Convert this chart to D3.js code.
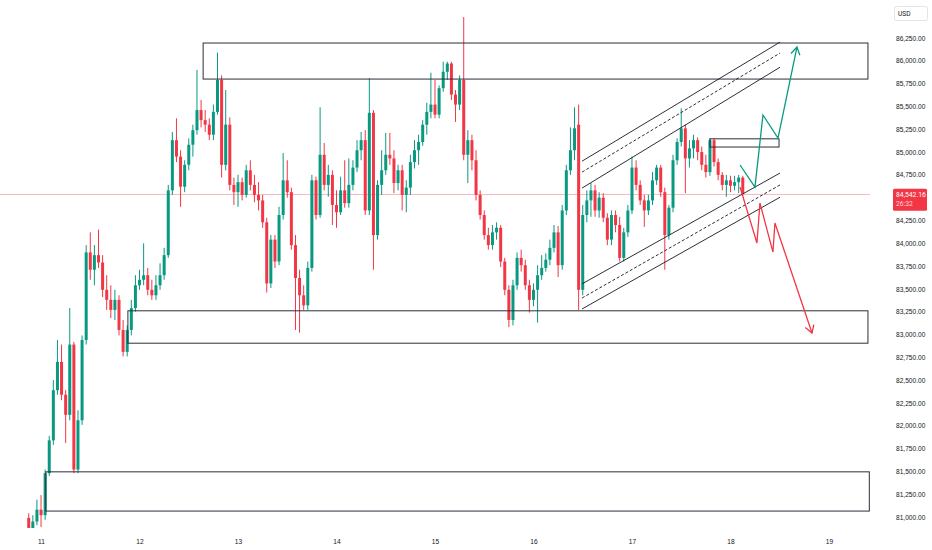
<!DOCTYPE html>
<html>
<head>
<meta charset="utf-8">
<script src="https://cdn.jsdelivr.net/npm/d3@7"></script>
<style>
  html, body { margin: 0; padding: 0; background: #fff; }
  svg { display: block; font-family: Roboto, "Noto Sans", sans-serif; }
  .axis text { fill: #131722; font-size: 6.6px; }
</style>
</head>
<body>
<script>
// BTC/USD hourly candles, [open, high, low, close]
const firstCandle = '2025-03-10T21:00Z';

const day10 = [[80990,81040,80860,80880],[80880,81020,80860,80950],[80950,81190,80910,81080]];
const day11 = [
  [81080,81240,80890,81020],[81020,81520,80970,81480],[81480,81890,81450,81840],[81840,82500,81790,82390],
  [82390,82940,82340,82700],[82700,82890,82280,82340],[82340,82390,81810,82120],[82120,83290,82060,82890],
  [82890,82920,81480,81520],[81520,82170,81480,82060],[82060,82990,82010,82940],[82940,83980,82890,83900],
  [83900,84120,83600,83710],[83710,83980,83540,83870],[83870,84150,83730,83790],[83790,83870,83410,83490],
  [83490,83650,83270,83380],[83380,83540,83180,83270],[83270,83490,83160,83380],[83380,83430,82990,83050],
  [83050,83160,82760,82810],[82810,83100,82760,83050],[83050,83380,82990,83290],[83290,83650,83250,83540]
];
const day12 = [
  [83540,83710,83490,83600],[83600,84000,83540,83650],[83650,83730,83430,83490],[83490,83600,83380,83430],
  [83430,83650,83380,83540],[83540,83780,83490,83650],[83650,83950,83600,83870],[83870,84640,83840,84580],
  [84580,85220,84530,85130],[85130,85370,84890,84950],[84950,85020,84400,84620],[84620,84910,84560,84860],
  [84860,85150,84800,85080],[85080,85300,84950,85240],[85240,85900,85190,85460],[85460,85570,85270,85350],
  [85350,85460,85220,85300],[85300,85370,85130,85190],[85190,85520,85130,85440],[85440,86090,85410,85790],
  [85790,85840,84720,84860],[84860,85680,84800,85300],[85300,85380,84580,84640],[84640,84720,84420,84560]
];
const day13 = [
  [84560,84750,84400,84670],[84670,84720,84470,84530],[84530,84860,84500,84800],[84800,84910,84580,84640],
  [84640,84750,84450,84530],[84530,84670,84360,84470],[84470,84530,84170,84230],[84230,84280,83460,83560],
  [83560,84090,83510,84040],[84040,84090,83730,83800],[83800,84400,83760,84310],[84310,84990,84260,84690],
  [84690,84910,84500,84560],[84560,84610,83930,83980],[83980,84090,83050,83620],[83620,83710,83020,83430],
  [83430,83540,83270,83320],[83320,83800,83270,83730],[83730,84750,83690,84690],[84690,84730,84260,84310],
  [84310,85490,84280,84970],[84970,85100,84580,84640],[84640,84860,84510,84750],[84750,84800,84200,84420]
];
const day14 = [
  [84420,84580,84170,84340],[84340,84730,84310,84580],[84580,84910,84390,84440],[84440,84930,84390,84640],
  [84640,84910,84580,84830],[84830,85130,84780,85020],[85020,85220,84910,85130],[85130,85240,84310,84360],
  [84360,85810,84310,85430],[85430,85460,83710,84090],[84090,84690,84040,84640],[84640,85020,84530,84800],
  [84800,85210,84750,84970],[84970,85210,84860,84930],[84930,85020,84550,84660],[84660,84860,84580,84800],
  [84800,84860,84360,84530],[84530,84690,84340,84610],[84610,84970,84530,84890],[84890,85130,84820,85020],
  [85020,85190,84860,85110],[85110,85350,85070,85300],[85300,85540,85190,85440],[85440,85870,85370,85520]
];
const day15 = [
  [85520,85790,85370,85410],[85410,85730,85370,85700],[85700,85990,85660,85880],[85880,85990,85790,85970],
  [85970,85990,85570,85630],[85630,85680,85330,85520],[85520,85840,85460,85790],[85790,86480,84910,84970],
  [84970,85240,84660,85130],[85130,85190,84800,84910],[84910,85020,84470,84530],[84530,84580,84260,84310],
  [84310,84360,84040,84090],[84090,84170,83930,83980],[83980,84200,83930,84120],[84120,84230,84040,84170],
  [84170,84200,83740,83800],[83800,83840,83430,83490],[83490,83540,83080,83160],[83160,83600,83100,83540],
  [83540,83900,83490,83840],[83840,83930,83690,83760],[83760,83820,83490,83540],[83540,83600,83240,83380]
];
const day16 = [
  [83380,83560,83310,83490],[83490,83760,83130,83650],[83650,83870,83600,83730],[83730,83890,83690,83820],
  [83820,84040,83760,83950],[83950,84200,83900,84120],[84120,84190,83630,83760],[83760,84420,83710,84360],
  [84360,84860,84310,84800],[84800,85270,84750,85020],[85020,85490,84910,85260],[85300,85520,83270,83490],
  [83490,84420,83430,84310],[84310,84580,84230,84470],[84470,84660,84290,84580],[84580,84640,84290,84360],
  [84360,84560,84280,84500],[84500,84550,84230,84280],[84280,84330,83980,84040],[84040,84360,83980,84310],
  [84310,84360,84120,84200],[84200,84290,83800,83840],[83840,84170,83800,84120],[84120,84420,84070,84360]
];
const day17 = [
  [84360,84950,84320,84830],[84830,84910,84580,84640],[84640,84690,84420,84470],[84470,84530,84180,84360],
  [84360,84530,84310,84470],[84470,84780,84420,84690],[84690,84860,84640,84830],[84830,84860,84510,84560],
  [84560,84610,83710,84090],[84090,84420,84040,84390],[84390,84970,84340,84910],[84910,85150,84860,85110],
  [85110,85480,85060,85260],[85260,85300,84550,84930],[84930,85130,84830,85040],[85040,85190,84930,85130],
  [85130,85160,84910,85000],[85000,85060,84800,84860],[84860,84970,84720,84780],[84780,85150,84740,85130],
  [85130,85150,84840,84890],[84890,84930,84690,84750],[84750,84780,84580,84640],[84640,84750,84510,84690]
];
const day18 = [[84690,84740,84560,84630],[84630,84740,84580,84670],[84670,84750,84550,84720],[84720,84740,84520,84542.16]];

const countdown = '26:32';
const currency = 'USD';

const dayTicks = ['2025-03-11','2025-03-12','2025-03-13','2025-03-14','2025-03-15','2025-03-16','2025-03-17','2025-03-18','2025-03-19'];
const priceTicks = [81000,81250,81500,81750,82000,82250,82500,82750,83000,83250,83500,83750,
  84000,84250,84500,84750,85000,85250,85500,85750,86000,86250];

// drawn zones: [from, to, top price, bottom price]
const zones = [
  ['2025-03-12T15:30Z', '2025-03-19T09:30Z', 86195, 85800],
  ['2025-03-11T21:10Z', '2025-03-19T09:30Z', 83260, 82905],
  ['2025-03-11T01:10Z', '2025-03-19T09:50Z', 81495, 81065],
  ['2025-03-17T19:00Z', '2025-03-18T11:50Z', 85145, 85055]
];

// parallel channel: [start price, end price, dashed]
const channelStart = '2025-03-16T11:50Z';
const channelEnd = '2025-03-18T12:05Z';
const channel = [
  [84900, 86205, false], [84780, 86085, true], [84605, 85930, false],
  [83555, 84770, false], [83400, 84640, true], [83280, 84505, false]
];

const bullPath = [
  ['2025-03-18T02:20Z', 84858], ['2025-03-18T05:58Z', 84616], ['2025-03-18T07:55Z', 85406],
  ['2025-03-18T11:35Z', 85153], ['2025-03-18T16:12Z', 86151]
];
const bearPath = [
  ['2025-03-18T02:20Z', 84616], ['2025-03-18T06:27Z', 84003], ['2025-03-18T07:11Z', 84441],
  ['2025-03-18T10:21Z', 83904], ['2025-03-18T10:50Z', 84222], ['2025-03-18T19:52Z', 83016]
];

const UP = '#089981';
const DOWN = '#f23645';

const width = 932, height = 550;
const plotRight = 870;

const candles = [].concat(day10, day11, day12, day13, day14, day15, day16, day17, day18)
  .map(([open, high, low, close], i) => ({
    time: new Date(+new Date(firstCandle) + i * 3600e3),
    open, high, low, close
  }));
const last = candles[candles.length - 1];

const x = d3.scaleUtc()
  .domain([new Date('2025-03-10T14:00Z'), new Date('2025-03-19T10:00Z')])
  .range([0, plotRight]);
const y = d3.scaleLinear().domain([81000, 86250]).range([517, 38]);

const svg = d3.select('body').append('svg')
  .attr('width', width)
  .attr('height', height);

const defs = svg.append('defs');
[['arrow-up', UP], ['arrow-down', DOWN]].forEach(([id, color]) => {
  defs.append('marker')
    .attr('id', id)
    .attr('viewBox', '-9 -6 11 12')
    .attr('refX', 0).attr('refY', 0)
    .attr('markerUnits', 'userSpaceOnUse')
    .attr('markerWidth', 11).attr('markerHeight', 12)
    .attr('orient', 'auto')
    .append('path')
    .attr('d', 'M-7.5,-4.5L0,0L-7.5,4.5')
    .attr('fill', 'none')
    .attr('stroke', color)
    .attr('stroke-width', 1.3);
});

defs.append('clipPath').attr('id', 'plot')
  .append('rect').attr('width', plotRight).attr('height', 528);

const plot = svg.append('g').attr('clip-path', 'url(#plot)');

// last price line
plot.append('line')
  .attr('x1', 0).attr('x2', plotRight)
  .attr('y1', Math.round(y(last.close)) + 0.5).attr('y2', Math.round(y(last.close)) + 0.5)
  .attr('stroke', DOWN)
  .attr('stroke-opacity', 0.35);

// candles
const bodyW = 3;
const candle = plot.append('g').selectAll('g')
  .data(candles)
  .enter().append('g')
  .attr('fill', d => d.close >= d.open ? UP : DOWN)
  .attr('stroke', d => d.close >= d.open ? UP : DOWN);

candle.append('line')
  .attr('x1', d => x(d.time)).attr('x2', d => x(d.time))
  .attr('y1', d => y(d.high)).attr('y2', d => y(d.low))
  .attr('stroke-width', 1);

candle.append('rect')
  .attr('stroke', 'none')
  .attr('x', d => x(d.time) - bodyW / 2)
  .attr('width', bodyW)
  .attr('y', d => y(Math.max(d.open, d.close)))
  .attr('height', d => Math.max(1, Math.abs(y(d.open) - y(d.close))));

// zones
plot.append('g').selectAll('rect')
  .data(zones)
  .enter().append('rect')
  .attr('x', d => x(new Date(d[0])))
  .attr('width', d => x(new Date(d[1])) - x(new Date(d[0])))
  .attr('y', d => y(d[2]))
  .attr('height', d => y(d[3]) - y(d[2]))
  .attr('fill', 'none')
  .attr('stroke', '#2a2e39')
  .attr('stroke-width', 1);

// channel
plot.append('g').selectAll('line')
  .data(channel)
  .enter().append('line')
  .attr('x1', x(new Date(channelStart)))
  .attr('x2', x(new Date(channelEnd)))
  .attr('y1', d => y(d[0]))
  .attr('y2', d => y(d[1]))
  .attr('stroke', '#131722')
  .attr('stroke-width', 0.9)
  .attr('stroke-dasharray', d => d[2] ? '3,2' : null);

const pathLine = d3.line()
  .x(d => x(new Date(d[0])))
  .y(d => y(d[1]));

svg.append('path')
  .attr('d', pathLine(bullPath))
  .attr('fill', 'none')
  .attr('stroke', UP)
  .attr('stroke-width', 1.3)
  .attr('marker-end', 'url(#arrow-up)');

svg.append('path')
  .attr('d', pathLine(bearPath))
  .attr('fill', 'none')
  .attr('stroke', DOWN)
  .attr('stroke-width', 1.3)
  .attr('marker-end', 'url(#arrow-down)');

// axes; labels under the last price badge are hidden like the original scale does
const ly = y(last.close);
const visibleTicks = priceTicks.filter(p => Math.abs(y(p) - (ly + 6)) > 13);

const yAxis = svg.append('g')
  .attr('class', 'axis')
  .attr('transform', `translate(${plotRight},0)`)
  .call(d3.axisRight(y).tickValues(visibleTicks).tickFormat(d3.format(',.2f')).tickSize(0).tickPadding(26));
yAxis.select('.domain').remove();

const xAxis = svg.append('g')
  .attr('class', 'axis')
  .attr('transform', 'translate(0,533)')
  .call(d3.axisBottom(x)
    .tickValues(dayTicks.map(d => new Date(d + 'T00:00Z')))
    .tickFormat(d3.utcFormat('%-d'))
    .tickSize(0).tickPadding(6));
xAxis.select('.domain').remove();

// currency box
svg.append('rect')
  .attr('x', 894.5).attr('y', 6.5)
  .attr('width', 33).attr('height', 14)
  .attr('rx', 2)
  .attr('fill', '#fff')
  .attr('stroke', '#e0e3eb');
svg.append('text')
  .attr('x', 898).attr('y', 16)
  .attr('font-size', 6.6)
  .attr('fill', '#131722')
  .text(currency);

// last price label
svg.append('rect')
  .attr('x', 893).attr('y', ly - 5)
  .attr('width', 34).attr('height', 22)
  .attr('rx', 1.5)
  .attr('fill', DOWN);
svg.append('text')
  .attr('x', 896).attr('y', ly + 3)
  .attr('font-size', 6.8)
  .attr('fill', '#fff')
  .text(d3.format(',.2f')(last.close));
svg.append('text')
  .attr('x', 896).attr('y', ly + 12.5)
  .attr('font-size', 6.8)
  .attr('fill', '#ffd6da')
  .text(countdown);
</script>
</body>
</html>
